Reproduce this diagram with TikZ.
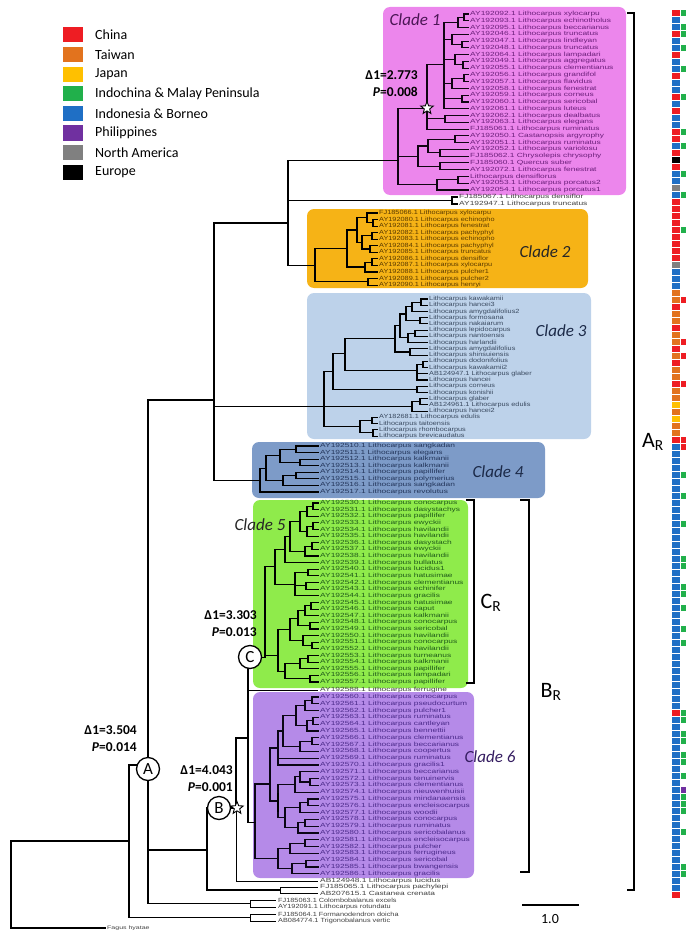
\documentclass[tikz,border=0pt]{standalone}
\usepackage{fontspec}
\setmainfont{Carlito}
\newfontfamily\tipfam[FakeStretch=1.4]{Liberation Sans}
\newfontfamily\tipfamn[FakeStretch=1.22]{Liberation Sans}
\usepackage{tikz}
\usetikzlibrary{shapes.geometric}

% region colours
\definecolor{cR}{HTML}{EE1D23}
\definecolor{cO}{HTML}{E2731E}
\definecolor{cY}{HTML}{FFC000}
\definecolor{cG}{HTML}{21B04B}
\definecolor{cB}{HTML}{1F6FC5}
\definecolor{cP}{HTML}{7030A0}
\definecolor{cA}{HTML}{808080}
\definecolor{cK}{HTML}{000000}
% clade boxes
\definecolor{boxA}{HTML}{EC86EC}
\definecolor{boxB}{HTML}{F6B316}
\definecolor{boxC}{HTML}{BDD2EA}
\definecolor{boxD}{HTML}{7D9BC8}
\definecolor{boxE}{HTML}{8FEB4B}
\definecolor{boxF}{HTML}{B58AE8}
% tip label colours
\definecolor{labA}{HTML}{6B1F7A}
\definecolor{labB}{HTML}{5A3A00}
\definecolor{labC}{HTML}{3A4A60}
\definecolor{labD}{HTML}{23355A}
\definecolor{labE}{HTML}{1F5A1A}
\definecolor{labF}{HTML}{4B2A8A}

\newcommand\tipfont{\tipfam\fontsize{6}{6}\selectfont}
\newcommand\tipfontn{\tipfamn\fontsize{6}{6}\selectfont}
\newcommand\acc[2]{#1\the\numexpr#2\relax.1}

\tikzset{
  br/.style={line width=1.1pt, line cap=rect},
  thinbr/.style={line width=0.6pt},
  thickbr/.style={line width=2.6pt},
  tiplab/.style={anchor=west, inner sep=0pt, font=\tipfont},
  tiplabn/.style={anchor=west, inner sep=0pt, font=\tipfontn},
  cladebox/.style={rounded corners=7pt},
  cladename/.style={font=\fontsize{17}{17}\selectfont\itshape},
  deltalab/.style={anchor=east, align=right, inner sep=0pt, font=\fontsize{13.5}{17}\selectfont\bfseries},
  nodecirc/.style={circle, draw, line width=1.3pt, fill=white, minimum size=23pt, inner sep=0pt, font=\fontsize{17}{17}\selectfont},
  starmark/.style={star, star points=5, star point ratio=2.3, draw, line width=0.9pt, fill=white, minimum size=13pt, inner sep=0pt},
  legtext/.style={anchor=west, inner sep=0pt, font=\fontsize{14}{14}\selectfont},
  brack/.style={line width=1.1pt},
  rangelab/.style={font=\fontsize{22}{22}\selectfont},
}

\begin{document}
\begin{tikzpicture}[x=1pt, y=-1pt]
\useasboundingbox (0,0) rectangle (686,931);

% Legend
\foreach \c/\t [count=\i from 0] in {cR/China, cO/Taiwan, cY/Japan, cG/Indochina \& Malay Peninsula,
    cB/Indonesia \& Borneo, cP/Philippines, cA/North America, cK/Europe}{
  \fill[\c] (63,27.5+19.6*\i) rectangle (83,42.5+19.6*\i);
  \node[legtext] (leg\i) at (95,35+19.6*\i) {\t};
}

% Clade boxes
\fill[cladebox, boxA] (383,7) rectangle (626,195);
\fill[cladebox, boxB] (307,209) rectangle (588,288);
\fill[cladebox, boxC] (307,293) rectangle (591,439);
\fill[cladebox, boxD] (252,442) rectangle (545,498);
\fill[cladebox, boxE] (253,500) rectangle (468,688);
\fill[cladebox, boxF] (253,692) rectangle (474,878);

\node[cladename, text=labA!70!black] (cl1) at (415,20) {Clade 1};
\node[cladename, text=black!85] (cl2) at (545,252) {Clade 2};
\node[cladename, text=labD!80!black] (cl3) at (561,331) {Clade 3};
\node[cladename, text=labD!80!black] (cl4) at (498,472) {Clade 4};
\node[cladename, text=black!85] (cl5) at (260,525) {Clade 5};
\node[cladename, text=labF!70!black] (cl6) at (490,757) {Clade 6};

% Clade 1
\begin{scope}[yshift=-14pt, y=-6.77pt]
  \foreach \a/\b/\c/\d in {464/0.5/468/0, 464/0.5/468/1, 458/1.25/464/0.5, 458/1.25/468/2,
      462/4.5/468/4, 462/4.5/468/5, 452/3.75/468/3, 452/3.75/462/4.5,
      463/7.5/468/7, 463/7.5/468/8, 455/6.75/468/6, 455/6.75/463/7.5,
      464/9.5/468/9, 464/9.5/468/10, 452/10.25/464/9.5, 452/10.25/468/11,
      462/12.5/468/12, 462/12.5/468/13,
      444/7.5/458/1.25, 444/7.5/452/3.75, 444/7.5/455/6.75, 444/7.5/452/10.25, 444/7.5/462/12.5, 444/7.5/468/14,
      445/15.5/468/15, 445/15.5/468/16,
      427/13.9/444/7.5, 427/13.9/445/15.5, 427/13.9/468/17,
      455/18.5/468/18, 455/18.5/468/19, 440/20.5/468/20, 440/20.5/468/21,
      428/19.5/455/18.5, 428/19.5/440/20.5, 440/22.5/468/22, 440/22.5/468/23,
      418/21/428/19.5, 418/21/440/22.5,
      458/24.5/468/24, 458/24.5/468/25, 437/25.25/458/24.5, 437/25.25/468/26,
      398/21.6/427/13.9, 398/21.6/418/21, 398/21.6/437/25.25}
    \draw[br, black!85!labA] (\a,\b) |- (\c,\d);
  \coordinate (c1root) at (398,21.6);
  \node[starmark] (star1) at (427,13.9) {};
  \foreach \n [count=\r from 0] in {AY192092.1 Lithocarpus xylocarpu, AY192093.1 Lithocarpus echinotholus,
      AY192095.1 Lithocarpus beccarianus, AY192046.1 Lithocarpus truncatus, AY192047.1 Lithocarpus lindleyan,
      AY192048.1 Lithocarpus truncatus, AY192064.1 Lithocarpus lampadari, AY192049.1 Lithocarpus aggregatus,
      AY192055.1 Lithocarpus clementianus, AY192056.1 Lithocarpus grandifol, AY192057.1 Lithocarpus flavidus,
      AY192058.1 Lithocarpus fenestrat, AY192059.1 Lithocarpus corneus, AY192060.1 Lithocarpus sericobal,
      AY192061.1 Lithocarpus luteus, AY192062.1 Lithocarpus dealbatus, AY192063.1 Lithocarpus elegans,
      FJ185061.1 Lithocarpus ruminatus, AY192050.1 Castanopsis argyrophy, AY192051.1 Lithocarpus ruminatus,
      AY192052.1 Lithocarpus variolosu, FJ185062.1 Chrysolepis chrysophy, FJ185060.1 Quercus suber,
      AY192072.1 Lithocarpus fenestrat, Lithocarpus densiflorus, AY192053.1 Lithocarpus porcatus2,
      AY192054.1 Lithocarpus porcatus1}
    \node[tiplab, text=labA] (c1t\r) at (470,\r) {\n};
\end{scope}

% densiflor pair
\coordinate (dens) at (452,200.5);
\draw[br] (dens) |- (457,197);
\draw[br] (dens) |- (457,204);
\node[tiplab, text=black!75] (dn1) at (459,197) {FJ185067.1 Lithocarpus densiflor};
\node[tiplab, text=black!75] (dn2) at (459,204) {AY192947.1 Lithocarpus truncatus};

% Clade 2
\begin{scope}[yshift=-213pt, y=-6.55pt]
  \foreach \a/\b/\c/\d in {373/1.5/377/1, 373/1.5/377/2, 367/0.75/377/0, 367/0.75/373/1.5,
      372/3.5/377/3, 372/3.5/377/4, 370/5.5/377/5, 370/5.5/377/6, 362/4.5/372/3.5, 362/4.5/370/5.5,
      357/2.6/367/0.75, 357/2.6/362/4.5, 372/7.5/377/7, 372/7.5/377/8, 365/8.25/372/7.5, 365/8.25/377/9,
      347/5.4/357/2.6, 347/5.4/365/8.25, 368/10.5/377/10, 368/10.5/377/11,
      315/8/347/5.4, 315/8/368/10.5}
    \draw[br] (\a,\b) |- (\c,\d);
  \coordinate (c2root) at (315,8);
  \foreach \n [count=\r from 0] in {FJ185066.1 Lithocarpus xylocarpu, AY192080.1 Lithocarpus echinopho,
      AY192081.1 Lithocarpus fenestrat, AY192082.1 Lithocarpus pachyphyl, AY192083.1 Lithocarpus echinopho,
      AY192084.1 Lithocarpus pachyphyl, AY192085.1 Lithocarpus truncatus, AY192086.1 Lithocarpus densiflor,
      AY192087.1 Lithocarpus xylocarpu, AY192088.1 Lithocarpus pulcher1, AY192089.1 Lithocarpus pulcher2,
      AY192090.1 Lithocarpus henryi}
    \node[tiplabn, text=labB] (c2t\r) at (379,\r) {\n};
\end{scope}

% Clade 3
\begin{scope}[yshift=-299pt, y=-6.23pt]
  \foreach \a/\b/\c/\d in {421/0.5/427/0, 421/0.5/427/1, 412/1.25/421/0.5, 412/1.25/427/2,
      420/3.5/427/3, 420/3.5/427/4, 406/2.4/412/1.25, 406/2.4/420/3.5,
      415/5.5/427/5, 415/5.5/427/6, 408/6.25/415/5.5, 408/6.25/427/7,
      400/4.3/406/2.4, 400/4.3/408/6.25, 410/8.5/427/8, 410/8.5/427/9,
      395/6.4/400/4.3, 395/6.4/410/8.5,
      423/10.5/427/10, 423/10.5/427/11, 417/11.5/423/10.5, 417/11.5/427/12, 417/11.5/427/13,
      345/8.7/395/6.4, 345/8.7/417/11.5, 417/14.5/427/14, 417/14.5/427/15,
      333/11.6/345/8.7, 333/11.6/417/14.5,
      420/16.5/427/16, 420/16.5/427/17, 412/17.2/420/16.5, 412/17.2/427/18,
      372/19.5/377/19, 372/19.5/377/20, 373/21.5/377/21, 373/21.5/377/22,
      360/20.5/372/19.5, 360/20.5/373/21.5,
      324/17.2/333/11.6, 324/17.2/412/17.2, 324/17.2/360/20.5}
    \draw[br] (\a,\b) |- (\c,\d);
  \coordinate (c3root) at (324,17.2);
  \foreach \n [count=\r from 0] in {Lithocarpus kawakamii, Lithocarpus hancei3, Lithocarpus amygdalifolius2,
      Lithocarpus formosana, Lithocarpus nakaiarum, Lithocarpus lepidocarpus, Lithocarpus nantoensis,
      Lithocarpus harlandii, Lithocarpus amygdalifolius, Lithocarpus shinsuiensis, Lithocarpus dodonifolius,
      Lithocarpus kawakamii2, AB124947.1 Lithocarpus glaber, Lithocarpus hancei, Lithocarpus corneus,
      Lithocarpus konishii, Lithocarpus glaber, AB124961.1 Lithocarpus edulis, Lithocarpus hancei2}
    \node[tiplabn, text=labC] (c3t\r) at (429,\r) {\n};
  \foreach \n [count=\r from 19] in {AY182681.1 Lithocarpus edulis, Lithocarpus taitoensis,
      Lithocarpus rhombocarpus, Lithocarpus brevicaudatus}
    \node[tiplabn, text=labC] (c3t\r) at (379,\r) {\n};
\end{scope}

% Clade 4
\begin{scope}[yshift=-446pt, y=-6.57pt]
  \foreach \a/\b/\c/\d in {296/0.5/318/0, 296/0.5/318/1, 300/2.5/318/2, 300/2.5/318/3,
      280/1.5/296/0.5, 280/1.5/300/2.5, 296/4.5/318/4, 296/4.5/318/5,
      283/5.25/296/4.5, 283/5.25/318/6, 266/3.4/280/1.5, 266/3.4/283/5.25,
      260/5.2/266/3.4, 260/5.2/318/7}
    \draw[br] (\a,\b) |- (\c,\d);
  \coordinate (c4root) at (260,5.2);
  \foreach \n [count=\r from 0] in {sangkadan, elegans, kalkmanii, kalkmanii, papillifer,
      polymerius, sangkadan, revolutus}
    \node[tiplab, text=labD] (c4t\r) at (320,\r) {\acc{AY1925}{10+\r}\ Lithocarpus \n};
\end{scope}

% Clade 5
\begin{scope}[yshift=-503pt, y=-6.63pt]
  \foreach \a/\b/\c/\d in {313/0.5/318/0, 313/0.5/318/1, 307/1.25/313/0.5, 307/1.25/318/2,
      313/3.5/318/3, 313/3.5/318/4, 307/4.25/313/3.5, 307/4.25/318/5,
      300/2.75/307/1.25, 300/2.75/307/4.25, 312/6.5/318/6, 312/6.5/318/7,
      305/7.25/312/6.5, 305/7.25/318/8, 290/5/300/2.75, 290/5/305/7.25,
      285/7/290/5, 285/7/318/9, 308/10.5/318/10, 308/10.5/318/11,
      306/12.5/318/12, 306/12.5/318/13, 295/12.3/308/10.5, 295/12.3/306/12.5, 295/12.3/318/14,
      275/9.6/285/7, 275/9.6/295/12.3,
      311/15.5/318/15, 311/15.5/318/16, 305/16.25/311/15.5, 305/16.25/318/17,
      310/18.5/318/18, 310/18.5/318/19, 298/17.4/305/16.25, 298/17.4/310/18.5,
      312/21.5/318/21, 312/21.5/318/22, 303/20.75/318/20, 303/20.75/312/21.5,
      290/19.1/298/17.4, 290/19.1/303/20.75, 308/23.5/318/23, 308/23.5/318/24,
      300/24.25/308/23.5, 300/24.25/318/25, 310/26.5/318/26, 310/26.5/318/27,
      285/25.4/300/24.25, 285/25.4/310/26.5, 278/23/290/19.1, 278/23/285/25.4,
      265/23.3/275/9.6, 265/23.3/278/23}
    \draw[br] (\a,\b) |- (\c,\d);
  \coordinate (c5root) at (265,23.3);
  \foreach \n [count=\r from 0] in {conocarpus, dasystachys, papillifer, ewyckii, havilandii, havilandii,
      dasystach, ewyckii, havilandii, bullatus, lucidus1, hatusimae, clementianus, echinifer, gracilis,
      hatusimae, caput, kalkmanii, conocarpus, sericobal, havilandii, conocarpus, havilandii, turneanus,
      kalkmanii, papillifer, lampadari, papillifer}
    \node[tiplab, text=labE] (c5t\r) at (320,\r) {\acc{AY1925}{30+\r}\ Lithocarpus \n};
\end{scope}
\draw[thickbr] (265,612) -- (265,656);

% Clade 6
\begin{scope}[yshift=-697pt, y=-6.8pt]
  \foreach \a/\b/\c/\d in {312/0.5/318/0, 312/0.5/318/1, 305/1.25/312/0.5, 305/1.25/318/2,
      313/3.5/318/3, 313/3.5/318/4, 307/4.25/313/3.5, 307/4.25/318/5,
      296/2.75/305/1.25, 296/2.75/307/4.25, 312/6.5/318/6, 312/6.5/318/7,
      300/7.25/312/6.5, 300/7.25/318/8, 283/5/296/2.75, 283/5/300/7.25,
      278/7.5/283/5, 278/7.5/318/9, 278/7.5/318/10,
      310/12.5/318/12, 310/12.5/318/13, 300/11.75/318/11, 300/11.75/310/12.5,
      295/12.9/300/11.75, 295/12.9/318/14, 308/15.5/318/15, 308/15.5/318/16,
      300/16.25/308/15.5, 300/16.25/318/17, 305/18.5/318/18, 305/18.5/318/19,
      298/19.25/305/18.5, 298/19.25/318/20, 285/17.75/300/16.25, 285/17.75/298/19.25,
      278/15.3/295/12.9, 278/15.3/285/17.75, 270/12.8/278/7.5, 270/12.8/278/15.3,
      305/21.5/318/21, 305/21.5/318/22, 290/22.25/305/21.5, 290/22.25/318/23,
      306/24.5/318/24, 306/24.5/318/25, 292/25.25/306/24.5, 292/25.25/318/26,
      278/23.75/290/22.25, 278/23.75/292/25.25,
      255/18.5/270/12.8, 255/18.5/278/23.75}
    \draw[br, black!85!labF] (\a,\b) |- (\c,\d);
  \coordinate (c6root) at (255,18.5);
  \foreach \n [count=\r from 0] in {conocarpus, pseudocurtum, pulcher1, ruminatus, cantleyan, bennettii,
      clementianus, beccarianus, coopertus, ruminatus, gracilis1, beccarianus, tenuinervis, clementianus,
      nieuwenhuisii, mindanaensis, encleisocarpus, woodii, conocarpus, ruminatus, sericobalanus,
      encleisocarpus, pulcher, ferrugineus, sericobal, bwangensis, gracilis}
    \node[tiplab, text=labF] (c6t\r) at (320,\r) {\acc{AY1925}{60+\r}\ Lithocarpus \n};
\end{scope}
\draw[thickbr] (278,793) -- (278,812);

% Backbone
\coordinate (x1) at (288,223);
\coordinate (x2) at (214,400);
\coordinate (x3) at (148,765);
\coordinate (x4) at (129,841);
\coordinate (rt) at (11,885);
\coordinate (n248) at (248,738);
\coordinate (nB) at (236,808);
\coordinate (n207) at (207,850);
\coordinate (npachy) at (280,890);
\coordinate (ncolo) at (250,903.5);
\coordinate (nform) at (250,917.5);
\draw[br] (x1) |- (c1root);
\draw[br] (x1) |- (dens);
\draw[br] (x1) |- (c2root);
\draw[br] (x2) |- (x1);
\draw[br] (x2) |- (c3root);
\draw[br] (x2) |- (c4root);
\draw[br] (x3) |- (x2);
\draw[br] (x3) |- (n207);
\draw[br] (x3) |- (ncolo);
\draw[br] (x4) |- (x3);
\draw[br] (x4) |- (nform);
\draw[br] (rt) |- (x4);
\draw[br] (rt) |- (105,928);
\draw[br] (n207) |- (nB);
\draw[br] (n207) |- (npachy);
\draw[br] (nB) |- (n248);
\draw[thinbr] (nB) |- (318,881);
\draw[br] (n248) |- (c5root);
\draw[thinbr] (n248) |- (318,690);
\draw[br] (n248) |- (c6root);
\draw[thinbr] (npachy) |- (318,887);
\draw[thinbr] (npachy) |- (318,893);
\draw[thinbr] (ncolo) |- (276,900);
\draw[thinbr] (ncolo) |- (276,907);
\draw[thinbr] (nform) |- (276,914);
\draw[thinbr] (nform) |- (276,921);
\draw[thickbr] (148,555) -- (148,850);

% outer tips
\node[tiplab, text=black!75] (tfer) at (320,690) {AY192588.1 Lithocarpus ferrugine};
\node[tiplab, text=black!75] (tluc) at (320,881) {AB124948.1 Lithocarpus lucidus};
\node[tiplab, text=black!75] (tpac) at (320,887) {FJ185065.1 Lithocarpus pachylepi};
\node[tiplab, text=black!75] (tcas) at (320,893) {AB207615.1 Castanea crenata};
\node[tiplabn, text=black!75] (tcol) at (278,900) {FJ185063.1 Colombobalanus excels};
\node[tiplabn, text=black!75] (trot) at (278,907) {AY192091.1 Lithocarpus rotundatu};
\node[tiplabn, text=black!75] (tfor) at (278,914) {FJ185064.1 Formanodendron doicha};
\node[tiplabn, text=black!75] (ttri) at (278,921) {AB084774.1 Trigonobalanus vertic};
\node[anchor=west, inner sep=0pt, font=\tipfam\fontsize{5}{5}\selectfont, text=black!75] (tfag) at (107,928) {Fagus hyatae};

% Marked nodes
\node[nodecirc] (cA) at (148,769) {A};
\node[nodecirc] (cB) at (219,808) {B};
\node[nodecirc] (cC) at (250,657) {C};
\node[starmark] (star2) at (237,808) {};
\node[deltalab] (dl1) at (418,83.5) {Δ1=2.773\\\textit{P}=0.008};
\node[deltalab] (dlC) at (257,624) {Δ1=3.303\\\textit{P}=0.013};
\node[deltalab] (dlA) at (137,739) {Δ1=3.504\\\textit{P}=0.014};
\node[deltalab] (dlB) at (233,779) {Δ1=4.043\\\textit{P}=0.001};

% Range brackets
\draw[brack] (627,13) -- (634,13) -- (634,890) -- (627,890);
\node[rangelab] (rA) at (653,442) {A\textsubscript{R}};
\draw[brack] (466,500) -- (474,500) -- (474,683) -- (466,683);
\node[rangelab] (rC) at (491,603) {C\textsubscript{R}};
\draw[brack] (520,500) -- (529,500) -- (529,872) -- (520,872);
\node[rangelab] (rB) at (551,692) {B\textsubscript{R}};

% Scale bar
\draw[line width=1.2pt] (522,905) -- (579,905);
\node[font=\fontsize{14}{14}\selectfont] (scl) at (550,919) {1.0};

% Distribution strip
\foreach \i in {0,...,126}
  \fill[cB] (672,10+7*\i) rectangle (680,16+7*\i);
\foreach \i/\c in {0/R,3/R,6/R,9/R,12/R,14/R,17/R,18/R,20/R,21/K,22/R,25/A,
    27/R,28/R,29/R,30/R,31/R,32/R,33/R,34/R,35/R,36/A,
    40/O,41/O,42/R,43/O,44/O,45/R,46/O,47/O,48/R,49/O,50/R,51/O,52/O,53/R,54/O,55/O,
    56/Y,57/O,58/Y,59/O,60/O,61/R,100/R,126/R}
  \fill[c\c] (672,10+7*\i) rectangle (680,16+7*\i);
\foreach \i/\c in {0/G,2/G,3/G,5/G,8/G,12/G,17/G,19/G,23/G,26/G,31/G,
    41/R,47/R,49/R,53/R,61/R,62/R,66/G,69/G,73/G,78/G,79/G,82/G,83/G,85/G,88/G,90/G,
    100/G,101/G,103/G,104/G,106/G,107/G,109/G,111/P,112/G,113/G,114/G,117/G,122/G,123/G}
  \fill[c\c] (681,10+7*\i) rectangle (686,16+7*\i);
\end{tikzpicture}
\end{document}
